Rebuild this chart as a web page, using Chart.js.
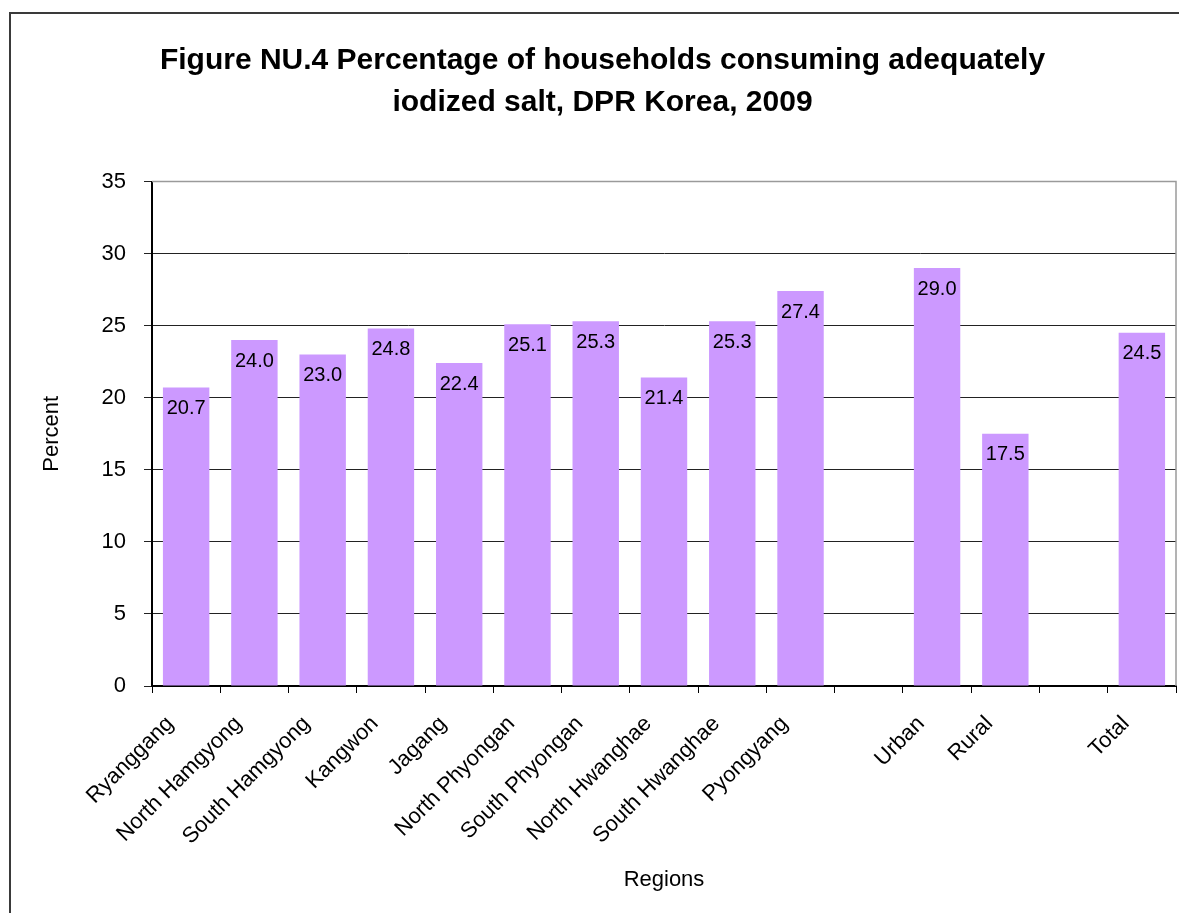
<!DOCTYPE html>
<html>
<head>
<meta charset="utf-8">
<title>Iodized salt consumption, DPR Korea, 2009</title>
<script src="https://cdn.jsdelivr.net/npm/chart.js@4.4.1/dist/chart.umd.min.js"></script>
<style>
  html, body { margin: 0; padding: 0; background: #ffffff; }
  #wrap { width: 1179px; height: 913px; position: relative; }
  canvas { display: block; }
</style>
</head>
<body>
<div id="wrap"><canvas id="chart" width="1179" height="913"></canvas></div>
<script>
// Regions, area of residence and total; empty entries are spacer columns
const categories = [
  'Ryanggang', 'North Hamgyong', 'South Hamgyong', 'Kangwon', 'Jagang',
  'North Phyongan', 'South Phyongan', 'North Hwanghae', 'South Hwanghae',
  'Pyongyang', '', 'Urban', 'Rural', '', 'Total'
];
// Percentage of households consuming adequately iodized salt
const percentValues = [20.7, 24.0, 23.0, 24.8, 22.4, 25.1, 25.3, 21.4, 25.3, 27.4, null, 29.0, 17.5, null, 24.5];
const yTickValues = [0, 5, 10, 15, 20, 25, 30, 35];
const titleLines = [
  'Figure NU.4 Percentage of households consuming adequately',
  'iodized salt, DPR Korea, 2009'
];

const FONT = "'Liberation Sans', Arial, Helvetica, sans-serif";

// White page with the outer frame lines on the left and top
const framePlugin = {
  id: 'frame',
  beforeDraw(chart) {
    const ctx = chart.ctx;
    ctx.save();
    ctx.fillStyle = '#ffffff';
    ctx.fillRect(0, 0, chart.width, chart.height);
    ctx.strokeStyle = '#3a3a3a';
    ctx.lineWidth = 2;
    ctx.beginPath();
    ctx.moveTo(10, chart.height + 5);
    ctx.lineTo(10, 13);
    ctx.lineTo(chart.width + 5, 13);
    ctx.stroke();
    ctx.restore();
  }
};

// Title is centred a little right of the page centre
const titleShiftPlugin = {
  id: 'titleShift',
  afterLayout(chart) {
    if (chart.titleBlock) {
      chart.titleBlock.left = 26;
      chart.titleBlock.right = chart.width;
    }
  }
};

// Grey border on the top and right of the plot area
const plotBorderPlugin = {
  id: 'plotBorder',
  beforeDatasetsDraw(chart) {
    const { ctx, chartArea: a } = chart;
    ctx.save();
    ctx.strokeStyle = '#9a9a9a';
    ctx.lineWidth = 1.5;
    ctx.beginPath();
    ctx.moveTo(a.left, a.top);
    ctx.lineTo(a.right, a.top);
    ctx.lineTo(a.right, a.bottom);
    ctx.stroke();
    ctx.restore();
  }
};

// Value labels printed just inside the top of each bar
const valueLabelPlugin = {
  id: 'valueLabels',
  afterDatasetsDraw(chart) {
    const ctx = chart.ctx;
    const meta = chart.getDatasetMeta(0);
    const values = chart.data.datasets[0].data;
    ctx.save();
    ctx.font = '20px ' + FONT;
    ctx.fillStyle = '#000000';
    ctx.textAlign = 'center';
    ctx.textBaseline = 'middle';
    meta.data.forEach((bar, i) => {
      const v = values[i];
      if (v === null || v === undefined) return;
      ctx.fillText(v.toFixed(1), bar.x, bar.y + 21);
    });
    ctx.restore();
  }
};

new Chart(document.getElementById('chart'), {
  type: 'bar',
  data: {
    labels: categories,
    datasets: [{
      label: 'Percent',
      data: percentValues,
      backgroundColor: '#cc99ff',
      borderWidth: 0,
      barPercentage: 0.68,
      categoryPercentage: 1.0
    }]
  },
  options: {
    responsive: false,
    animation: false,
    devicePixelRatio: 1,
    layout: { padding: { left: 0, right: 3, top: 0, bottom: 0 } },
    plugins: {
      legend: { display: false },
      tooltip: { enabled: false },
      title: {
        display: true,
        text: titleLines,
        color: '#000000',
        font: { family: FONT, size: 30, weight: 'bold', lineHeight: 1.4 },
        padding: { top: 40, bottom: 57.5 }
      }
    },
    scales: {
      x: {
        type: 'category',
        offset: true,
        grid: {
          offset: true,
          drawOnChartArea: false,
          drawTicks: true,
          tickLength: 7,
          color: '#000000',
          lineWidth: 1
        },
        border: { color: '#000000', width: 2 },
        ticks: {
          autoSkip: false,
          maxRotation: 45,
          minRotation: 45,
          padding: 18,
          labelOffset: -16,
          color: '#000000',
          font: { family: FONT, size: 22 }
        },
        title: {
          display: true,
          text: 'Regions',
          color: '#000000',
          font: { family: FONT, size: 22 },
          padding: { top: 0, bottom: 20 }
        },
        afterFit(scale) { scale.height = 227; }
      },
      y: {
        min: 0,
        max: 35,
        grid: {
          color: '#222222',
          lineWidth: 1,
          tickLength: 8,
          drawTicks: true
        },
        border: { color: '#000000', width: 2 },
        ticks: {
          stepSize: 5,
          padding: 18,
          color: '#000000',
          font: { family: FONT, size: 22 }
        },
        afterBuildTicks(scale) {
          scale.ticks = yTickValues.map(v => ({ value: v }));
        },
        title: {
          display: true,
          text: 'Percent',
          color: '#000000',
          font: { family: FONT, size: 22 },
          padding: { top: 39, bottom: 0 }
        },
        afterFit(scale) { scale.width = 152; }
      }
    }
  },
  plugins: [framePlugin, titleShiftPlugin, plotBorderPlugin, valueLabelPlugin]
});
</script>
</body>
</html>
